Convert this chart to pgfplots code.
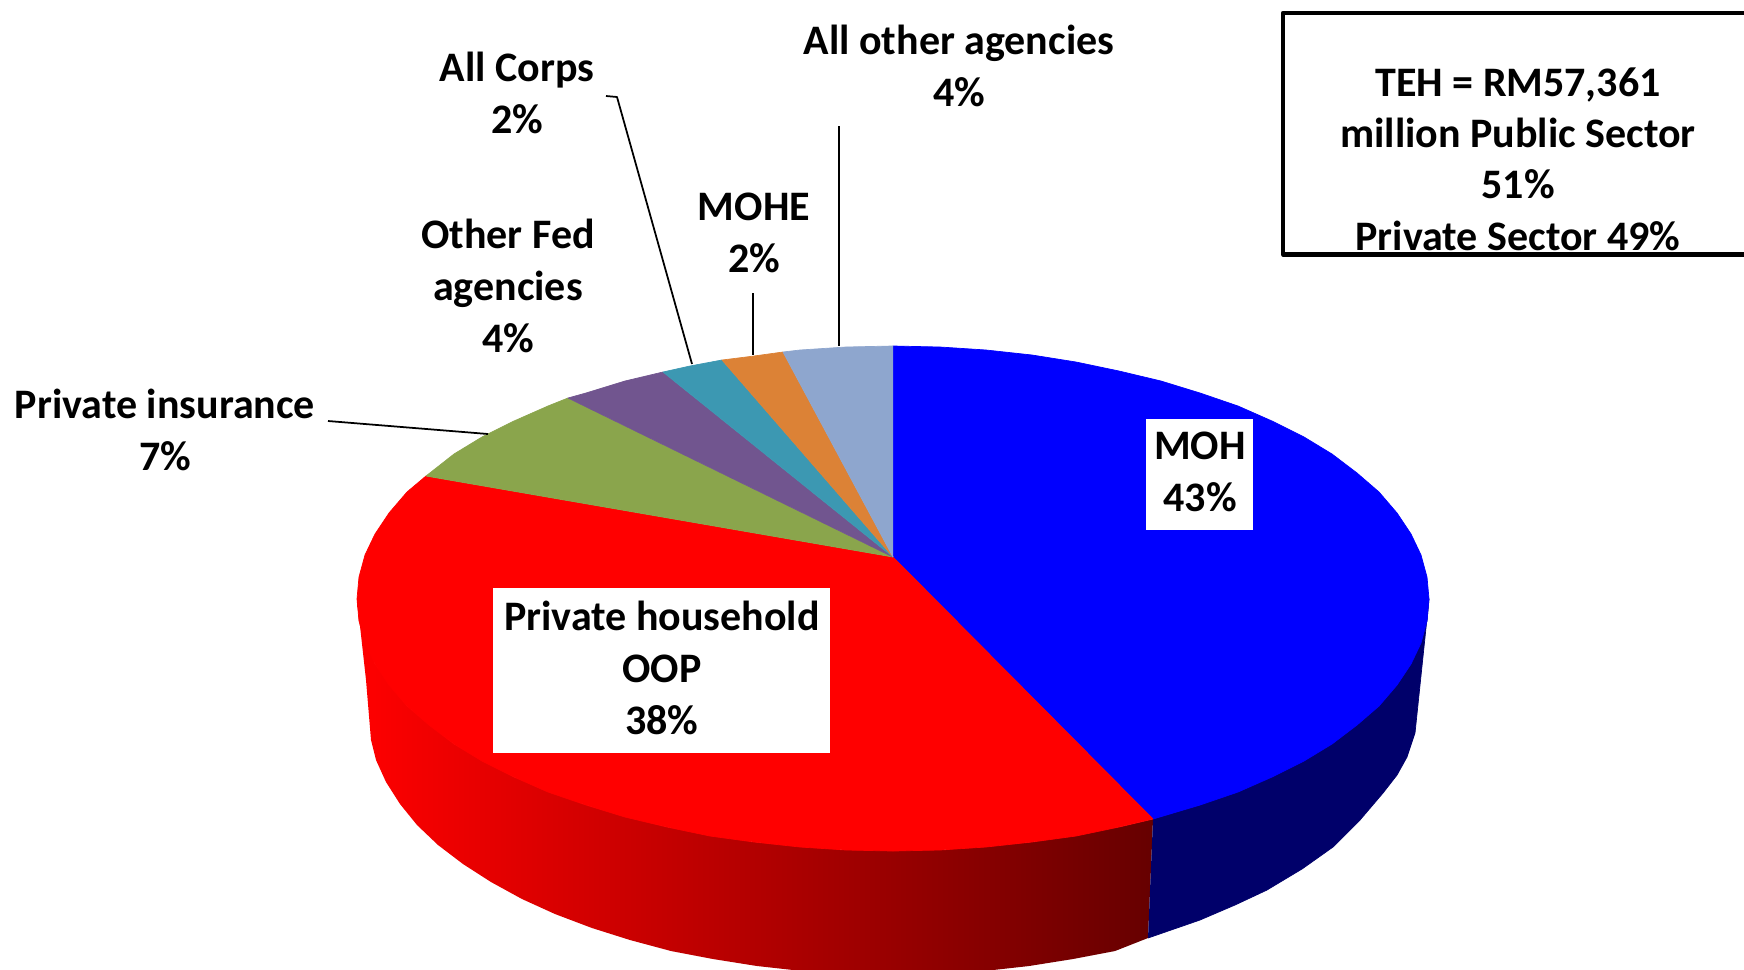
\documentclass[border=0pt]{standalone}
\usepackage{pgfplots}
\pgfplotsset{compat=1.18}
\usepackage{fontspec}
\setmainfont{Carlito}
\definecolor{cgreen}{HTML}{8AA54C}
\definecolor{cpurple}{HTML}{71558F}
\definecolor{cteal}{HTML}{3C98B2}
\definecolor{corange}{HTML}{DC8236}
\definecolor{clight}{HTML}{8EA6CE}
\definecolor{navy}{HTML}{00006A}
\newcommand{\lab}{\fontsize{11.95}{14.8}\selectfont\bfseries}
\newcommand{\labb}{\fontsize{11.95}{14.6}\selectfont\bfseries}
\begin{document}
\begin{tikzpicture}
\path[use as bounding box] (0,0) rectangle (17.44cm,9.69cm);
\begin{axis}[
  at={(0,0)},anchor=south west,
  width=17.44cm,height=9.69cm,scale only axis,hide axis,
  xmin=0,xmax=1744,ymin=0,ymax=969,y dir=reverse,
  every axis plot/.append style={no marks,line join=round}]
% side walls
\addplot[draw=none,left color=red,middle color=red!70!black,right color=red!40!black] coordinates {
 (357,599)(359,621)(375,664)(407,706)(454,744)(514,777)(586,805)(667,827)(754,842)(846,850)(940,850)(1032,842)(1119,827)(1153,819)
 (1148,938)(1115,951)(1073,959)(1029,966)(984,971)(939,974)(893,975)(847,974)(802,971)(757,966)(713,959)(671,951)(630,940)(592,928)(555,914)(522,899)(491,882)(463,864)(438,845)(417,825)(400,804)(386,782)(376,760)(371,740)(366,680)};
\addplot[fill=navy,draw=navy,line width=0.2pt] coordinates {
 (1153,819)(1200,805)(1272,777)(1332,744)(1379,706)(1411,664)(1427,621)(1429,599)
 (1415,733)(1407,757)(1397,775)(1383,793)(1360,820)(1333,847)(1302,869)(1267,890)(1235,905)(1200,920)(1148,938)};
% top face
\addplot[fill=blue,draw=blue,line width=0.2pt] coordinates {
 (893,557)(893,346)(940,347)(986,350)(1032,355)(1076,362)(1119,371)(1161,381)(1200,393)(1238,406)(1272,421)(1304,437)(1332,454)(1357,473)(1379,492)(1397,513)(1411,534)(1421,555)(1427,577)(1429,599)
 (1427,621)(1421,643)(1411,664)(1397,685)(1379,706)(1357,725)(1332,744)(1304,761)(1272,777)(1238,792)(1200,805)(1153,819)};
\addplot[fill=red,draw=red,line width=0.2pt] coordinates {
 (893,557)(1153,819)(1119,827)(1076,836)(1032,842)(986,847)(940,850)(893,851)(846,850)(800,847)(754,842)(710,836)(667,827)(625,817)(586,805)(548,792)(514,777)(482,761)(454,744)(429,725)(407,706)(389,685)(375,664)(365,643)(359,621)(357,599)(359,577)(365,555)(375,534)(389,513)(407,492)(426,476)};
\addplot[fill=cgreen,draw=cgreen,line width=0.2pt] coordinates {
 (893,557)(426,476)(454,454)(482,437)(514,421)(548,406)(568,398)};
\addplot[fill=cpurple,draw=cpurple,line width=0.2pt] coordinates {
 (893,557)(568,398)(586,393)(625,381)(663,372)};
\addplot[fill=cteal,draw=cteal,line width=0.2pt] coordinates {
 (893,557)(663,372)(690,366)(722,360)};
\addplot[fill=corange,draw=corange,line width=0.2pt] coordinates {
 (893,557)(722,360)(754,356)(783,352)};
\addplot[fill=clight,draw=clight,line width=0.2pt] coordinates {
 (893,557)(783,352)(800,350)(846,347)(893,346)};
% leaders
\addplot[black,line width=0.5pt] coordinates {(328,421)(488,434)};
\addplot[black,line width=0.5pt] coordinates {(606,96)(617,97)(692,364)};
\addplot[black,line width=0.5pt] coordinates {(753,293)(753,355)};
\addplot[black,line width=0.5pt] coordinates {(839,126)(839,346)};
% text boxes
\addplot[fill=white,draw=none] coordinates {(493,588)(830,588)(830,753)(493,753)};
\addplot[fill=white,draw=none] coordinates {(1146,419)(1253,419)(1253,530)(1146,530)};
\addplot[black,line width=1.2pt] coordinates {(1744,13)(1283,13)(1283,254.5)(1744,254.5)};
\node[align=center,inner sep=0pt,font=\lab] at (axis cs:959,66) {All other agencies\\4\%};
\node[align=center,inner sep=0pt,font=\lab] at (axis cs:517,93) {All Corps\\2\%};
\node[align=center,inner sep=0pt,font=\lab] at (axis cs:754,233) {MOHE\\2\%};
\node[align=center,inner sep=0pt,font=\lab] at (axis cs:508,286) {Other Fed\\agencies\\4\%};
\node[align=center,inner sep=0pt,font=\lab] at (axis cs:165,430) {Private insurance\\7\%};
\node[align=center,inner sep=0pt,font=\lab] at (axis cs:1200,472) {MOH\\43\%};
\node[align=center,inner sep=0pt,font=\lab] at (axis cs:662,668) {Private household\\OOP\\38\%};
\node[align=center,inner sep=0pt,font=\labb] at (axis cs:1518,159) {TEH = RM57,361\\million Public Sector\\51\%\\Private Sector 49\%};
\end{axis}
\end{tikzpicture}
\end{document}
